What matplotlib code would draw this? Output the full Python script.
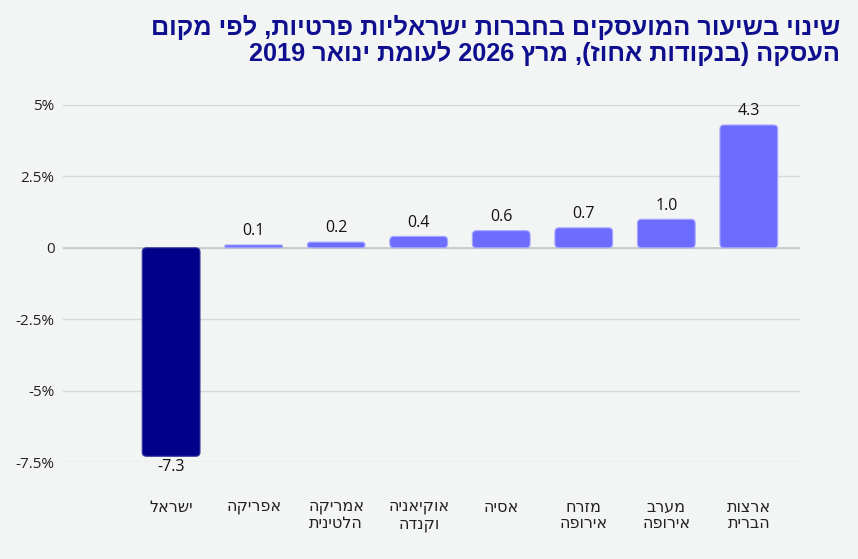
import re
import matplotlib
matplotlib.use("Agg")
import matplotlib.pyplot as plt
from matplotlib.patches import FancyBboxPatch

plt.rcParams['font.family'] = ['Open Sans', 'DejaVu Sans']

# data
categories = ["ישראל", "אפריקה", "אמריקה\nהלטינית", "אוקיאניה\nוקנדה", "אסיה",
              "מזרח\nאירופה", "מערב\nאירופה", "ארצות\nהברית"]
values = [-7.3, 0.1, 0.2, 0.4, 0.6, 0.7, 1.0, 4.3]
yticks = [5, 2.5, 0, -2.5, -5, -7.5]
ytick_labels = ["5%", "2.5%", "0", "-2.5%", "-5%", "-7.5%"]
title = "שינוי בשיעור המועסקים בחברות ישראליות פרטיות, לפי מקום\nהעסקה (בנקודות אחוז), מרץ 2026 לעומת ינואר 2019"

bg = "#f3f4f4"
navy = "#00008b"
purple = "#6c6cff"


def visual(text):
    # crude bidi: reverse hebrew, keep digit runs LTR, mirror brackets
    out = []
    for line in text.split("\n"):
        r = line[::-1]
        r = re.sub(r"[0-9.]+", lambda m: m.group(0)[::-1], r)
        r = r.translate(str.maketrans("()", ")("))
        out.append(r)
    return "\n".join(out)


fig = plt.figure(figsize=(8.58, 5.59), dpi=100, facecolor=bg)
ax = fig.add_axes([63/858, 1 - 462/559, (800-63)/858, (462-105)/559], facecolor=bg)
ax.set_ylim(-7.5, 5)
ax.set_xlim(-1.31, 7.62)

x = list(range(len(values)))
colors = [navy if v < 0 else purple for v in values]
edges = ["#3a3aa0" if v < 0 else "#a9a9ff" for v in values]
bars = ax.bar(x, values, width=0.7, color=colors, zorder=3)

# rounded corners: swap each rectangle for a rounded box of the same size
asp = (737 / 8.93) / (357 / 12.5)
for b, c, e in zip(bars, colors, edges):
    bx, by, bw, bh = b.get_x(), b.get_y(), b.get_width(), b.get_height()
    if bh < 0:
        by, bh = by + bh, -bh
    r = min(0.05, bh / asp / 2)
    p = FancyBboxPatch((bx, by), bw, bh, boxstyle=f"round,pad=0,rounding_size={r}",
                       mutation_aspect=asp, facecolor=c, edgecolor=e, linewidth=0.8, zorder=3)
    ax.add_patch(p)
    b.set_visible(False)

for xi, v in zip(x, values):
    if v >= 0:
        ax.text(xi, v + 0.2, f"{v:.1f}", ha="center", va="bottom", fontsize=11.5, color="#111111")
    else:
        ax.text(xi, v - 0.08, f"{v:.1f}", ha="center", va="top", fontsize=11.5, color="#111111")

ax.set_yticks(yticks)
ax.set_yticklabels(ytick_labels, fontsize=11, color="#222222")
ax.set_xticks(x)
ax.set_xticklabels([visual(c) for c in categories], fontsize=11.5, color="#222222",
                   family=['DejaVu Sans'], linespacing=1.15)
ax.tick_params(axis="both", length=0)
ax.tick_params(axis="x", pad=27)
ax.tick_params(axis="y", pad=6)
ax.grid(axis="y", color="#d6d8d8", linewidth=1, zorder=0)
ax.axhline(0, color="#c4c8c8", linewidth=1.2, zorder=2)
for s in ax.spines.values():
    s.set_visible(False)

fig.text(840/858, 1 - 15/559, visual(title), ha="right", va="top", multialignment="right",
         fontsize=18.2, fontweight="bold", color="#0e0e8e", family=['Liberation Sans', 'DejaVu Sans'],
         linespacing=1.05)

fig.savefig("out.png", dpi=100, facecolor=bg)
